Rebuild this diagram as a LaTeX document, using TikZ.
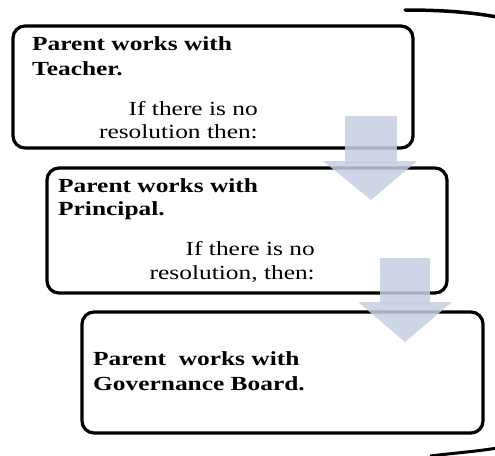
\documentclass[tikz,border=0pt]{standalone}
\usepackage{fontspec}
\setmainfont{Liberation Serif}[FakeStretch=1.27]
\begin{document}
\begin{tikzpicture}[x=1pt,y=-1pt,
  box/.style={draw=black,line width=3.2pt,rounded corners=12pt,inner sep=0pt},
  bold/.style={font=\fontsize{20}{23}\selectfont\bfseries,inner sep=0pt,anchor=base west},
  plain/.style={font=\fontsize{20}{23}\selectfont,inner sep=0pt,anchor=base east},
  arr/.style={fill=arrowblue,fill opacity=0.85,draw=none},
  curve/.style={line width=3.5pt,line cap=round}]
\definecolor{arrowblue}{HTML}{C6CFE1}
\useasboundingbox (0,0) rectangle (495,455);
% curves
\draw[curve] (405,10) .. controls (440,10) and (470,12) .. (497,17);
\draw[line width=3pt] (430,456) .. controls (455,453) and (480,451) .. (497,448);
% boxes
\node[box,minimum width=400pt,minimum height=122pt] (b1) at (213,87) {};
\node[box,minimum width=400pt,minimum height=125pt] (b2) at (247,230.5) {};
\node[box,minimum width=401pt,minimum height=121pt] (b3) at (282.5,372.5) {};
% texts
\node[bold] (t1a) at (32,50) {Parent works with};
\node[bold] (t1b) at (32,75) {Teacher.};
\node[plain] (t1c) at (258,115) {If there is no};
\node[plain] (t1d) at (258,138) {resolution then:};
\node[bold] (t2a) at (58,192) {Parent works with};
\node[bold] (t2b) at (58,215) {Principal.};
\node[plain] (t2c) at (315,255) {If there is no};
\node[plain] (t2d) at (315,279) {resolution, then:};
\node[bold] (t3a) at (93,365) {Parent\ \ works with};
\node[bold] (t3b) at (93,390) {Governance Board.};
% arrows
\fill[arr] (345,116) rectangle (397,164);
\fill[arr] (323,161) -- (417,161) -- (371,200) -- cycle;
\fill[arr] (380,258) rectangle (430,305);
\fill[arr] (358,302) -- (452,302) -- (405,342) -- cycle;
\end{tikzpicture}
\end{document}
